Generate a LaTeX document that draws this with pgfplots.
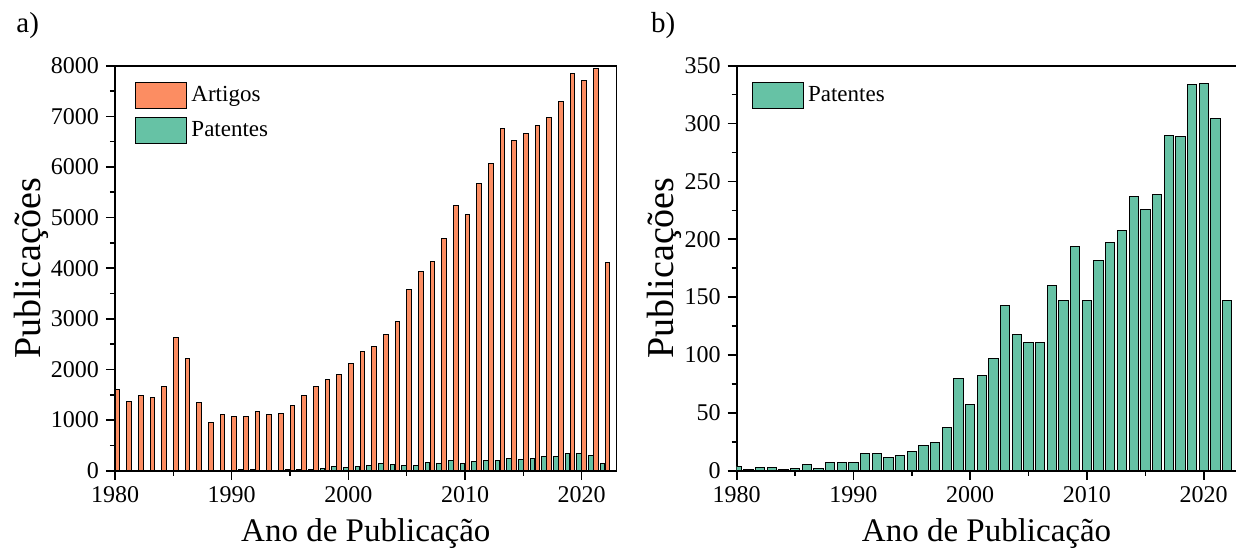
\documentclass[border=0pt]{standalone}
\usepackage{fontspec}
\setmainfont{Liberation Serif}
\usepackage{pgfplots}
\usepackage{pgfplotstable}
\pgfplotsset{compat=1.18}

\definecolor{artigo}{HTML}{FC8D62}
\definecolor{patente}{HTML}{66C2A5}

% publicações por ano
\pgfplotstableread{
ano  artigos patentes
1980 1600 4
1981 1375 1
1982 1495 3
1983 1450 3
1984 1670 1
1985 2635 2
1986 2225 5
1987 1355 2
1988 960  7
1989 1115 7
1990 1075 7
1991 1070 15
1992 1165 15
1993 1115 11
1994 1130 13
1995 1280 17
1996 1495 22
1997 1670 24
1998 1805 37
1999 1905 80
2000 2120 57
2001 2345 82
2002 2460 97
2003 2695 143
2004 2955 118
2005 3570 111
2006 3930 111
2007 4140 160
2008 4595 147
2009 5235 194
2010 5070 147
2011 5675 182
2012 6070 197
2013 6755 208
2014 6525 237
2015 6665 226
2016 6820 239
2017 6980 290
2018 7295 289
2019 7850 334
2020 7710 335
2021 7945 304
2022 4110 147
}\dados

\pgfplotsset{
  painel/.style={
    scale only axis, height=202.5pt,
    xmin=1980, ymin=0,
    xtick={1980,1990,...,2020},
    minor x tick num=1, minor y tick num=1,
    tick align=outside, tick pos=left,
    major tick length=4.5pt, minor tick length=2.5pt,
    every tick/.style={black, line width=0.8pt},
    axis line style={line width=0.8pt},
    /pgf/number format/1000 sep={},
    /pgf/number format/assume math mode=true,
    tick label style={font=\fontsize{12}{14}\selectfont},
    xlabel={Ano de Publicação}, ylabel={Publicações},
    xlabel style={at={(axis description cs:0.5,-0.156)}, anchor=center,
      font=\fontsize{16.5}{19}\selectfont},
    legend style={draw=none, fill=none, inner sep=0pt, anchor=north west,
      font=\fontsize{11.5}{13}\selectfont, row sep=4pt,
      /tikz/every even column/.append style={column sep=3pt}},
    legend cell align=left,
  },
  barra/.style={ybar, draw=black, line width=0.5pt,
    legend image code/.code={\draw[##1, draw=black, line width=0.5pt] (0pt,-6.5pt) rectangle (25.5pt,6.5pt);}},
}

\begin{document}
\begin{tikzpicture}

\begin{axis}[painel, width=250.85pt, xmax=2023, ymax=8000,
    ytick={0,1000,...,8000},
    ylabel style={at={(axis description cs:-0.167,0.5)}, anchor=center,
      font=\fontsize{19}{22}\selectfont},
    legend style={at={(axis description cs:0.04,0.96)}}]
\addplot[barra, fill=artigo, bar width=0.4, bar shift=0.22] table[x=ano, y=artigos] {\dados};
\addplot[barra, fill=patente, bar width=0.4, bar shift=-0.22] table[x=ano, y=patentes] {\dados};
\legend{Artigos, Patentes}
\end{axis}

\begin{axis}[painel, at={(310.85pt,0pt)}, width=249.85pt, xmax=2022.8, ymax=350,
    ytick={0,50,...,350},
    axis y line*=left, y axis line style={-},
    ylabel style={at={(axis description cs:-0.144,0.5)}, anchor=center,
      font=\fontsize{19}{22}\selectfont},
    legend style={at={(axis description cs:0.03,0.96)}}]
\addplot[barra, fill=patente, bar width=0.8, bar shift=0] table[x=ano, y=patentes] {\dados};
\legend{Patentes}
\end{axis}

\node[anchor=base west, inner sep=0pt, font=\fontsize{14.5}{16}\selectfont] at (-49.5pt,218.85pt) {a)};
\node[anchor=base west, inner sep=0pt, font=\fontsize{14.5}{16}\selectfont] at (267.85pt,218.85pt) {b)};

\pgfresetboundingbox
\useasboundingbox (-57.5pt,-40.65pt) rectangle (560.5pt,235.35pt);
\end{tikzpicture}
\end{document}
